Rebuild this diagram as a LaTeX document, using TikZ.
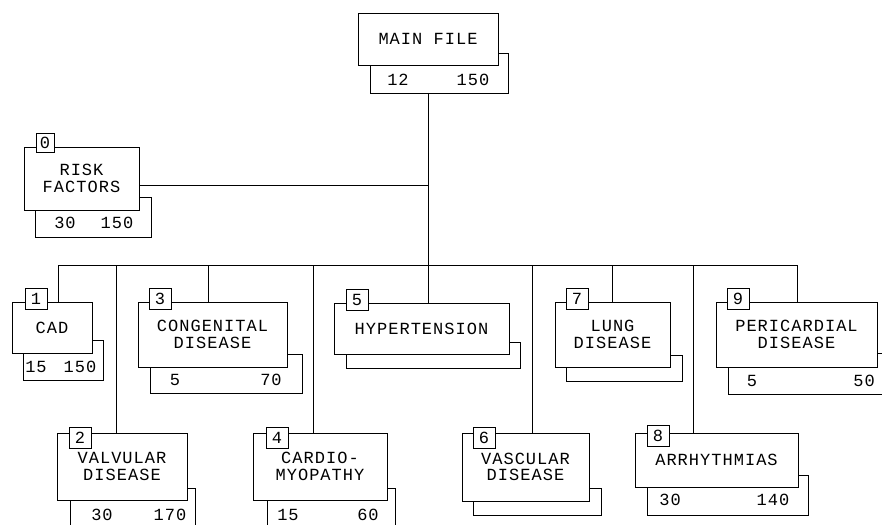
\documentclass[tikz,border=0pt]{standalone}
\usepackage{fontspec}
\newfontfamily\labfam[LetterSpace=6]{Liberation Mono}
\newcommand\labfont{\labfam\fontsize{17}{16.5}\selectfont}
\begin{document}
\begin{tikzpicture}[x=1pt,y=-1pt,
  every path/.style={line width=0.8pt},
  back/.style={draw, fill=white, inner sep=0pt, outer sep=0pt, anchor=north west},
  front/.style={draw, fill=white, inner sep=0pt, outer sep=0pt, anchor=north west, align=center, font=\labfont},
  tab/.style={draw, fill=white, inner sep=0pt, outer sep=0pt, anchor=north west, font=\labfont, minimum width=22pt, minimum height=21pt},
  num/.style={inner sep=0pt, font=\labfont}]
\useasboundingbox (0,0) rectangle (882,524);

% junction coordinates
\coordinate (busl) at (58,265);
\coordinate (busr) at (797,265);
\coordinate (jcad) at (58,265);
\coordinate (jval) at (116,265);
\coordinate (jcon) at (208,265);
\coordinate (jcar) at (313,265);
\coordinate (jhyp) at (428,265);
\coordinate (jvas) at (532,265);
\coordinate (jlun) at (612,265);
\coordinate (jarr) at (693,265);
\coordinate (jper) at (797,265);
\coordinate (jrisk) at (428,185);

% back boxes
\node[back, minimum width=138pt, minimum height=40pt] (mainb) at (370,53) {};
\node[back, minimum width=116pt, minimum height=40pt] (riskb) at (35,197) {};
\node[back, minimum width=80pt, minimum height=40pt] (cadb) at (23,340) {};
\node[back, minimum width=152pt, minimum height=39pt] (conb) at (150,354) {};
\node[back, minimum width=174pt, minimum height=26pt] (hypb) at (346,342) {};
\node[back, minimum width=116pt, minimum height=26pt] (lunb) at (566,355) {};
\node[back, minimum width=162pt, minimum height=41pt] (perb) at (728,353) {};
\node[back, minimum width=125pt, minimum height=42pt] (valb) at (70,488) {};
\node[back, minimum width=128pt, minimum height=42pt] (carb) at (267,488) {};
\node[back, minimum width=128pt, minimum height=27pt] (vasb) at (473,488) {};
\node[back, minimum width=161pt, minimum height=40pt] (arrb) at (647,475) {};

% bus
\draw (busl) -- (busr);

% front boxes
\node[front, minimum width=140pt, minimum height=52pt] (main) at (358,13) {MAIN FILE};
\node[front, minimum width=115pt, minimum height=63pt] (risk) at (24,147) {RISK\\FACTORS};
\node[front, minimum width=80pt, minimum height=51pt] (cad) at (12,302) {CAD};
\node[front, minimum width=149pt, minimum height=65pt] (con) at (138,302) {CONGENITAL\\DISEASE};
\node[front, minimum width=175pt, minimum height=51pt] (hyp) at (334,303) {HYPERTENSION};
\node[front, minimum width=115pt, minimum height=65pt] (lun) at (555,302) {LUNG\\DISEASE};
\node[front, minimum width=161pt, minimum height=65pt] (per) at (716,302) {PERICARDIAL\\DISEASE};
\node[front, minimum width=130pt, minimum height=67pt] (val) at (57,433) {VALVULAR\\DISEASE};
\node[front, minimum width=134pt, minimum height=67pt] (car) at (253,433) {CARDIO-\\MYOPATHY};
\node[front, minimum width=127pt, minimum height=68pt] (vas) at (462,433) {VASCULAR\\DISEASE};
\node[front, minimum width=163pt, minimum height=54pt] (arr) at (635,433) {ARRHYTHMIAS};

% connectors
\draw (mainb.south -| jhyp) -- (jhyp |- hyp.north);
\draw (jrisk -| risk.east) -- (jrisk);
\draw (jcad) -- (jcad |- cad.north);
\draw (jval) -- (jval |- val.north);
\draw (jcon) -- (jcon |- con.north);
\draw (jcar) -- (jcar |- car.north);
\draw (jvas) -- (jvas |- vas.north);
\draw (jlun) -- (jlun |- lun.north);
\draw (jarr) -- (jarr |- arr.north);
\draw (jper) -- (jper |- per.north);

% tabs
\node[tab, minimum width=18pt, minimum height=19pt] (riskt) at (36,133) {0};
\node[tab] (cadt) at (25,288) {1};
\node[tab] (cont) at (149,288) {3};
\node[tab] (hypt) at (346,289) {5};
\node[tab] (lunt) at (566,288) {7};
\node[tab] (pert) at (727,288) {9};
\node[tab] (valt) at (69,427) {2};
\node[tab] (cart) at (266,427) {4};
\node[tab] (vast) at (473,427) {6};
\node[tab] (arrt) at (647,425) {8};

% numbers
\node[num] (mainn1) at (398,80) {12};
\node[num] (mainn2) at (473,80) {150};
\node[num] (riskn1) at (65,223) {30};
\node[num] (riskn2) at (117,223) {150};
\node[num] (cadn1) at (36,367) {15};
\node[num] (cadn2) at (80,367) {150};
\node[num] (conn1) at (175,380) {5};
\node[num] (conn2) at (271,380) {70};
\node[num] (pern1) at (752,381) {5};
\node[num] (pern2) at (864,381) {50};
\node[num] (valn1) at (102,515) {30};
\node[num] (valn2) at (170,515) {170};
\node[num] (carn1) at (288,515) {15};
\node[num] (carn2) at (368,515) {60};
\node[num] (arrn1) at (670,500) {30};
\node[num] (arrn2) at (773,500) {140};
\end{tikzpicture}
\end{document}
